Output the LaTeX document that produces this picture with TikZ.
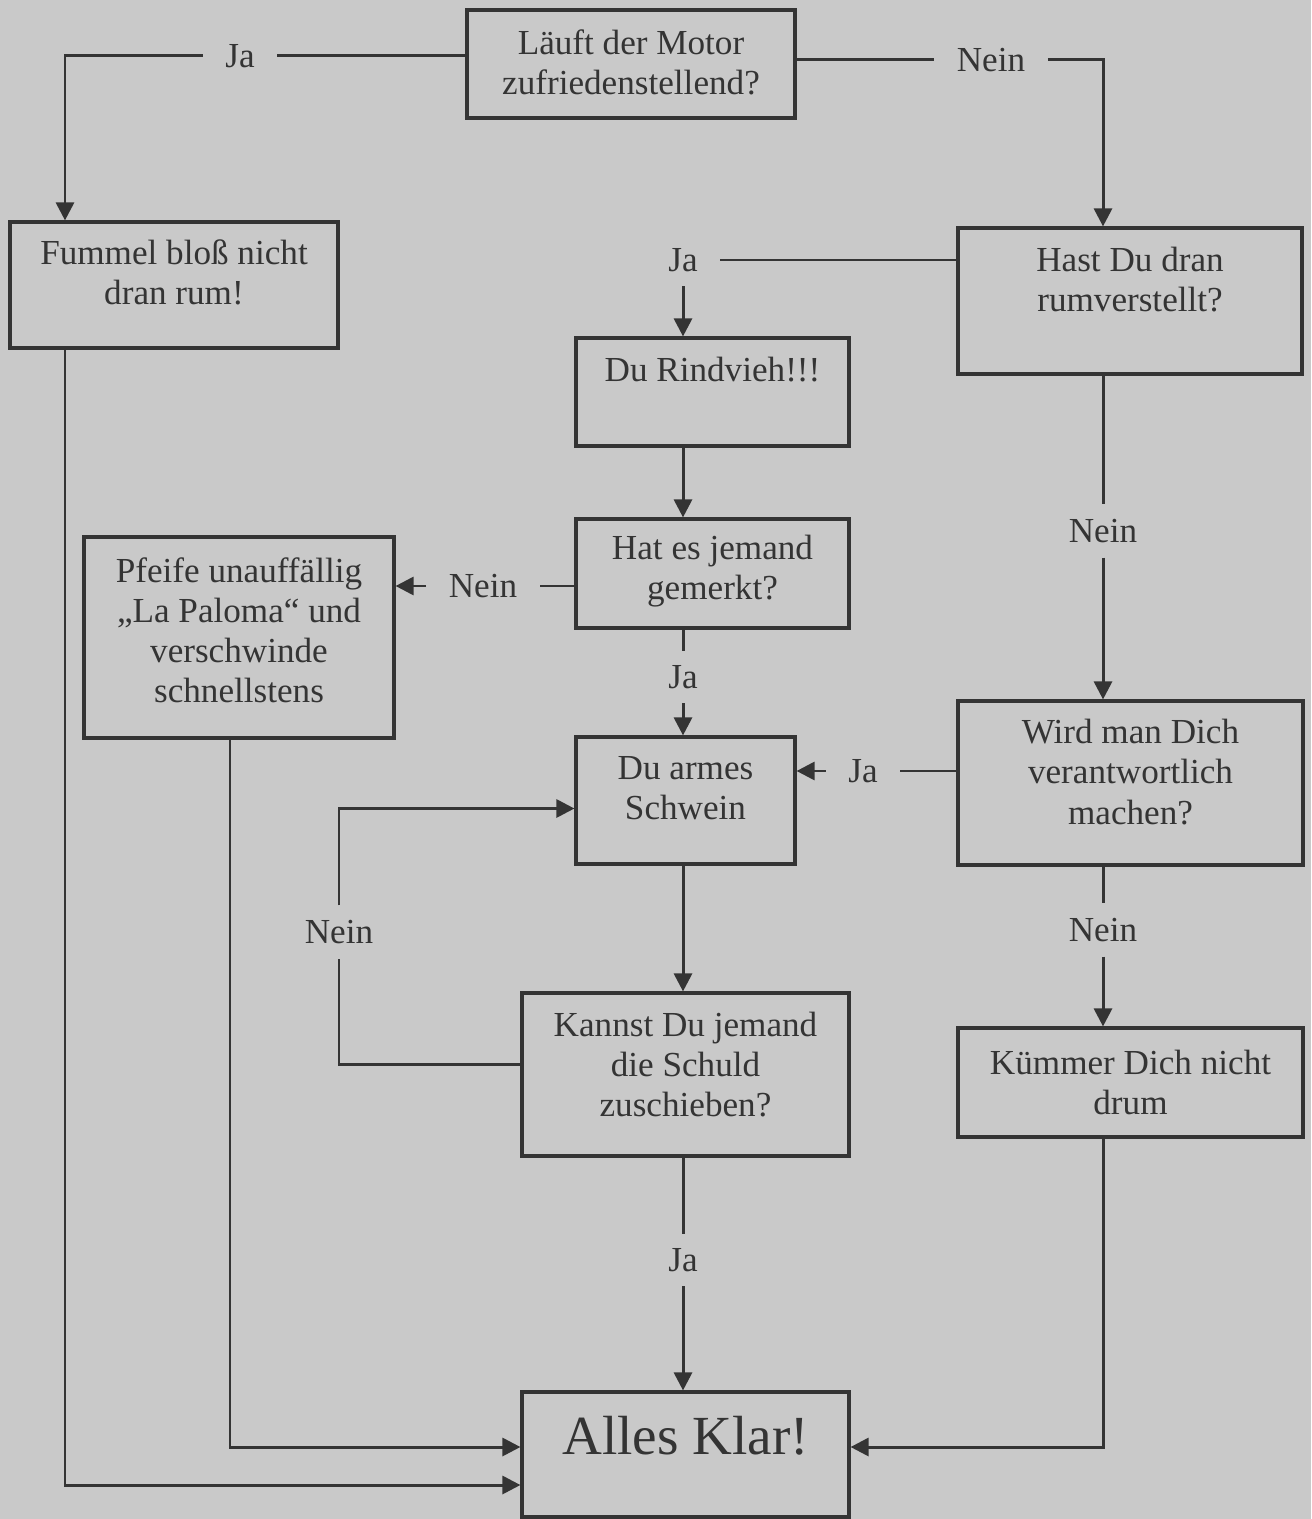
\documentclass[tikz,border=0pt]{standalone}
\usepackage{fontspec}
\setmainfont{Liberation Serif}
\usepackage{xcolor}
\usepackage{tikz}
\usetikzlibrary{arrows.meta,calc}
\definecolor{paper}{RGB}{201,201,201}
\definecolor{ink}{RGB}{52,52,52}

\tikzset{
  txt/.style={font=\fontsize{10}{11.4}\selectfont, text=ink, align=center},
  box/.style={draw=ink, line width=0.9pt, inner sep=0pt},
  answer/.style={txt, inner xsep=2.2mm, inner ysep=1.4mm},
  conn/.style={draw=ink, line width=0.85pt},
  arr/.style={conn, -{Triangle[length=1.8mm,width=1.8mm]}}
}

\begin{document}
\begin{tikzpicture}
% Paper
\fill[paper] (0,0) rectangle (13.11,-15.19);
\useasboundingbox (0,0) rectangle (13.11,-15.19);

% Boxes
\node[box, minimum width=3.28cm, minimum height=1.08cm,
  label={[txt, yshift=0.2mm]center:Läuft der Motor\\zufriedenstellend?}] (motor) at (6.31,-0.64) {};
\node[box, minimum width=3.28cm, minimum height=1.26cm,
  label={[txt, yshift=1.3mm]center:Fummel bloß nicht\\dran rum!}] (fummel) at (1.74,-2.85) {};
\node[box, minimum width=3.44cm, minimum height=1.46cm,
  label={[txt, yshift=2.1mm]center:Hast Du dran\\rumverstellt?}] (hast) at (11.30,-3.01) {};
\node[box, minimum width=2.73cm, minimum height=1.08cm,
  label={[txt, yshift=2.2mm]center:Du Rindvieh!!!}] (rindvieh) at (7.125,-3.92) {};
\node[box, minimum width=2.73cm, minimum height=1.09cm,
  label={[txt, yshift=0.2mm]center:Hat es jemand\\gemerkt?}] (gemerkt) at (7.125,-5.735) {};
\node[box, minimum width=3.10cm, minimum height=2.01cm,
  label={[txt, yshift=0.7mm]center:Pfeife unauffällig\\„La Paloma“ und\\verschwinde\\schnellstens}] (pfeife) at (2.39,-6.375) {};
\node[box, minimum width=2.19cm, minimum height=1.27cm,
  label={[txt, yshift=1.2mm]center:Du armes\\Schwein}] (schwein) at (6.855,-8.005) {};
\node[box, minimum width=3.45cm, minimum height=1.64cm,
  label={[txt, yshift=1.1mm]center:Wird man Dich\\verantwortlich\\machen?}] (verantw) at (11.305,-7.83) {};
\node[box, minimum width=3.27cm, minimum height=1.63cm,
  label={[txt, yshift=1.0mm]center:Kannst Du jemand\\die Schuld\\zuschieben?}] (schuld) at (6.855,-10.745) {};
\node[box, minimum width=3.45cm, minimum height=1.09cm,
  label={[txt]center:Kümmer Dich nicht\\drum}] (kuemmer) at (11.305,-10.825) {};
\node[box, minimum width=3.27cm, minimum height=1.25cm,
  label={[txt, font=\fontsize{15.7}{18}\selectfont, yshift=1.9mm]center:Alles Klar!}] (klar) at (6.855,-14.545) {};

% Answers
\node[answer] (ja1) at (2.40,-0.56) {Ja};
\node[answer] (nein1) at (9.91,-0.60) {Nein};
\node[answer] (ja2) at (6.83,-2.60) {Ja};
\node[answer] (nein2) at (4.83,-5.86) {Nein};
\node[answer] (ja3) at (6.83,-6.77) {Ja};
\node[answer] (nein3) at (11.03,-5.31) {Nein};
\node[answer] (ja4) at (8.63,-7.71) {Ja};
\node[answer] (nein4) at (11.03,-9.30) {Nein};
\node[answer] (nein5) at (3.39,-9.32) {Nein};
\node[answer] (ja5) at (6.83,-12.60) {Ja};

% Rails
\coordinate (railL) at (0.65,-14.85);
\coordinate (railP) at (2.30,-14.47);

% Motor
\draw[conn] (motor.west |- ja1) -- (ja1.east);
\draw[arr] (ja1.west) -| (fummel.north -| railL);
\draw[conn] (motor.east |- nein1) -- (nein1.west);
\draw[arr] (nein1.east) -| (hast.north -| nein3);

% Hast Du dran rumverstellt
\draw[conn] (hast.west |- ja2) -- (ja2.east);
\draw[arr] (ja2.south) -- (ja2 |- rindvieh.north);
\draw[conn] (hast.south -| nein3) -- (nein3.north);
\draw[arr] (nein3.south) -- (nein3 |- verantw.north);

% Rindvieh
\draw[arr] (rindvieh.south -| ja2) -- (gemerkt.north -| ja2);

% Gemerkt
\draw[conn] (gemerkt.west |- nein2) -- (nein2.east);
\draw[arr] (nein2.west) -- (nein2 -| pfeife.east);
\draw[conn] (gemerkt.south -| ja3) -- (ja3.north);
\draw[arr] (ja3.south) -- (ja3 |- schwein.north);

% Verantwortlich
\draw[conn] (verantw.west |- ja4) -- (ja4.east);
\draw[arr] (ja4.west) -- (ja4 -| schwein.east);
\draw[conn] (verantw.south -| nein4) -- (nein4.north);
\draw[arr] (nein4.south) -- (nein4 |- kuemmer.north);

% Schwein
\draw[arr] (schwein.south -| ja3) -- (schuld.north -| ja3);

% Schuld
\draw[conn] ($(schuld.west)+(0,0.1)$) -| (nein5.south);
\draw[arr] (nein5.north) |- ($(schwein.west)+(0,-0.08)$);
\draw[conn] (schuld.south -| ja5) -- (ja5.north);
\draw[arr] (ja5.south) -- (ja5 |- klar.north);

% Alles klar
\draw[arr] (fummel.south -| railL) |- (klar.west |- railL);
\draw[arr] (pfeife.south -| railP) |- (klar.west |- railP);
\draw[arr] (kuemmer.south -| nein4) |- (klar.east |- railP);
\end{tikzpicture}
\end{document}
